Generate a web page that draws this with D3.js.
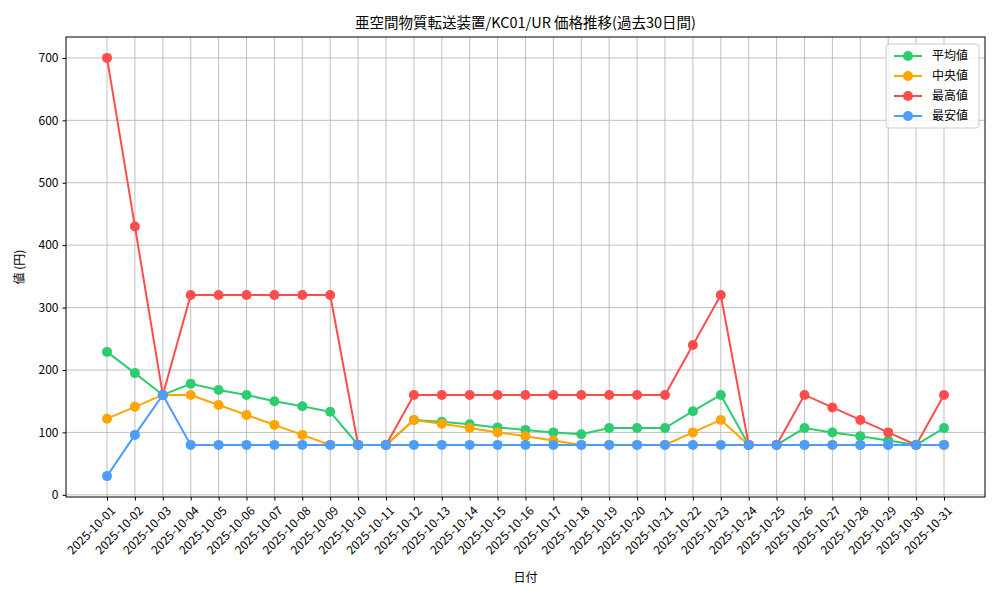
<!DOCTYPE html>
<html><head><meta charset="utf-8">
<script src="https://cdn.jsdelivr.net/npm/d3@7"></script>
<style>body{margin:0;background:#fff}text{font-family:"Noto Sans CJK JP",sans-serif}</style>
</head><body><svg width="1000" height="600"></svg>
<script>
var dates = d3.range(1, 32).map(function (d) { return '2025-10-' + (d < 10 ? '0' + d : d); });
var avgValues = [229,195,160,178,168,160,150,142,133,80,80,120,117,113,108,104,100,97,107,107,107,134,160,80,80,107,100,94,87,80,107];
var medianValues = [122,141,160,160,144,128,112,96,80,80,80,120,114,107,100,94,87,80,80,80,80,100,120,80,80,80,80,80,80,80,80];
var maxValues = [700,430,160,320,320,320,320,320,320,80,80,160,160,160,160,160,160,160,160,160,160,240,320,80,80,160,140,120,100,80,160];
var minValues = [30,96,160,80,80,80,80,80,80,80,80,80,80,80,80,80,80,80,80,80,80,80,80,80,80,80,80,80,80,80,80];
var yTicks = [0,100,200,300,400,500,600,700];
var series = [
  {name: '平均値', values: avgValues, color: '#2ecc71'},
  {name: '中央値', values: medianValues, color: '#ffa500'},
  {name: '最高値', values: maxValues, color: '#ff4d4d'},
  {name: '最安値', values: minValues, color: '#4d9dff'}
];

var pLeft = 66, pRight = 985, pTop = 37, pBottom = 497;
var svg = d3.select('svg');
var x = d3.scaleLinear().domain([-1.47, 31.47]).range([pLeft, pRight]);
var y = d3.scaleLinear().domain([-3.5, 733.5]).range([pBottom, pTop]);

var g = svg.append('g');
// grid
g.selectAll('line.vg').data(dates).enter().append('line')
  .attr('x1', function (d, i) { return x(i); }).attr('x2', function (d, i) { return x(i); })
  .attr('y1', pTop).attr('y2', pBottom).attr('stroke', '#b0b0b0').attr('stroke-width', 0.8);
g.selectAll('line.hg').data(yTicks).enter().append('line')
  .attr('x1', pLeft).attr('x2', pRight).attr('y1', function (d) { return y(d); }).attr('y2', function (d) { return y(d); })
  .attr('stroke', '#b0b0b0').attr('stroke-width', 0.8);

var yAxis = svg.append('g').attr('transform', 'translate(' + pLeft + ',0)')
  .call(d3.axisLeft(y).tickValues(yTicks).tickSize(3.5).tickPadding(4));
var xAxis = svg.append('g').attr('transform', 'translate(0,' + pBottom + ')')
  .call(d3.axisBottom(x).tickValues(d3.range(31)).tickFormat(function (i) { return dates[i]; }).tickSize(3.5));
[yAxis, xAxis].forEach(function (a) {
  a.select('.domain').remove();
  a.selectAll('text').attr('font-size', 12).attr('fill', '#000').style('font-family', '"Noto Sans CJK JP",sans-serif');
});
xAxis.selectAll('text').attr('text-anchor', 'end').attr('dy', 0)
  .attr('transform', function () { return 'translate(4,10) rotate(-45)'; });

svg.append('rect').attr('x', pLeft).attr('y', pTop).attr('width', pRight - pLeft).attr('height', pBottom - pTop)
  .attr('fill', 'none').attr('stroke', '#000').attr('stroke-width', 1);

var line = d3.line().x(function (d, i) { return x(i); }).y(function (d) { return y(d); });
series.forEach(function (s) {
  svg.append('path').datum(s.values).attr('d', line).attr('fill', 'none')
    .attr('stroke', s.color).attr('stroke-width', 2);
  svg.selectAll(null).data(s.values).enter().append('circle')
    .attr('cx', function (d, i) { return x(i); }).attr('cy', function (d) { return y(d); })
    .attr('r', 5).attr('fill', s.color);
});

svg.append('text').attr('x', (pLeft + pRight) / 2).attr('y', 28).attr('text-anchor', 'middle')
  .attr('font-size', 14.5).text('亜空間物質転送装置/KC01/UR 価格推移(過去30日間)');
svg.append('text').attr('x', (pLeft + pRight) / 2).attr('y', 582).attr('text-anchor', 'middle')
  .attr('font-size', 12).text('日付');
svg.append('text').attr('transform', 'translate(24,' + (pTop + pBottom) / 2 + ') rotate(-90)')
  .attr('text-anchor', 'middle').attr('font-size', 12).text('値 (円)');

// legend
var lg = svg.append('g').attr('transform', 'translate(886,44)');
lg.append('rect').attr('width', 93).attr('height', 84).attr('rx', 3)
  .attr('fill', '#fff').attr('fill-opacity', 0.8).attr('stroke', '#ccc');
series.forEach(function (s, i) {
  var yy = 12 + i * 20;
  lg.append('line').attr('x1', 8).attr('x2', 36).attr('y1', yy).attr('y2', yy).attr('stroke', s.color).attr('stroke-width', 2);
  lg.append('circle').attr('cx', 22).attr('cy', yy).attr('r', 5).attr('fill', s.color);
  lg.append('text').attr('x', 46).attr('y', yy + 4).attr('font-size', 12).text(s.name);
});
</script></body></html>
